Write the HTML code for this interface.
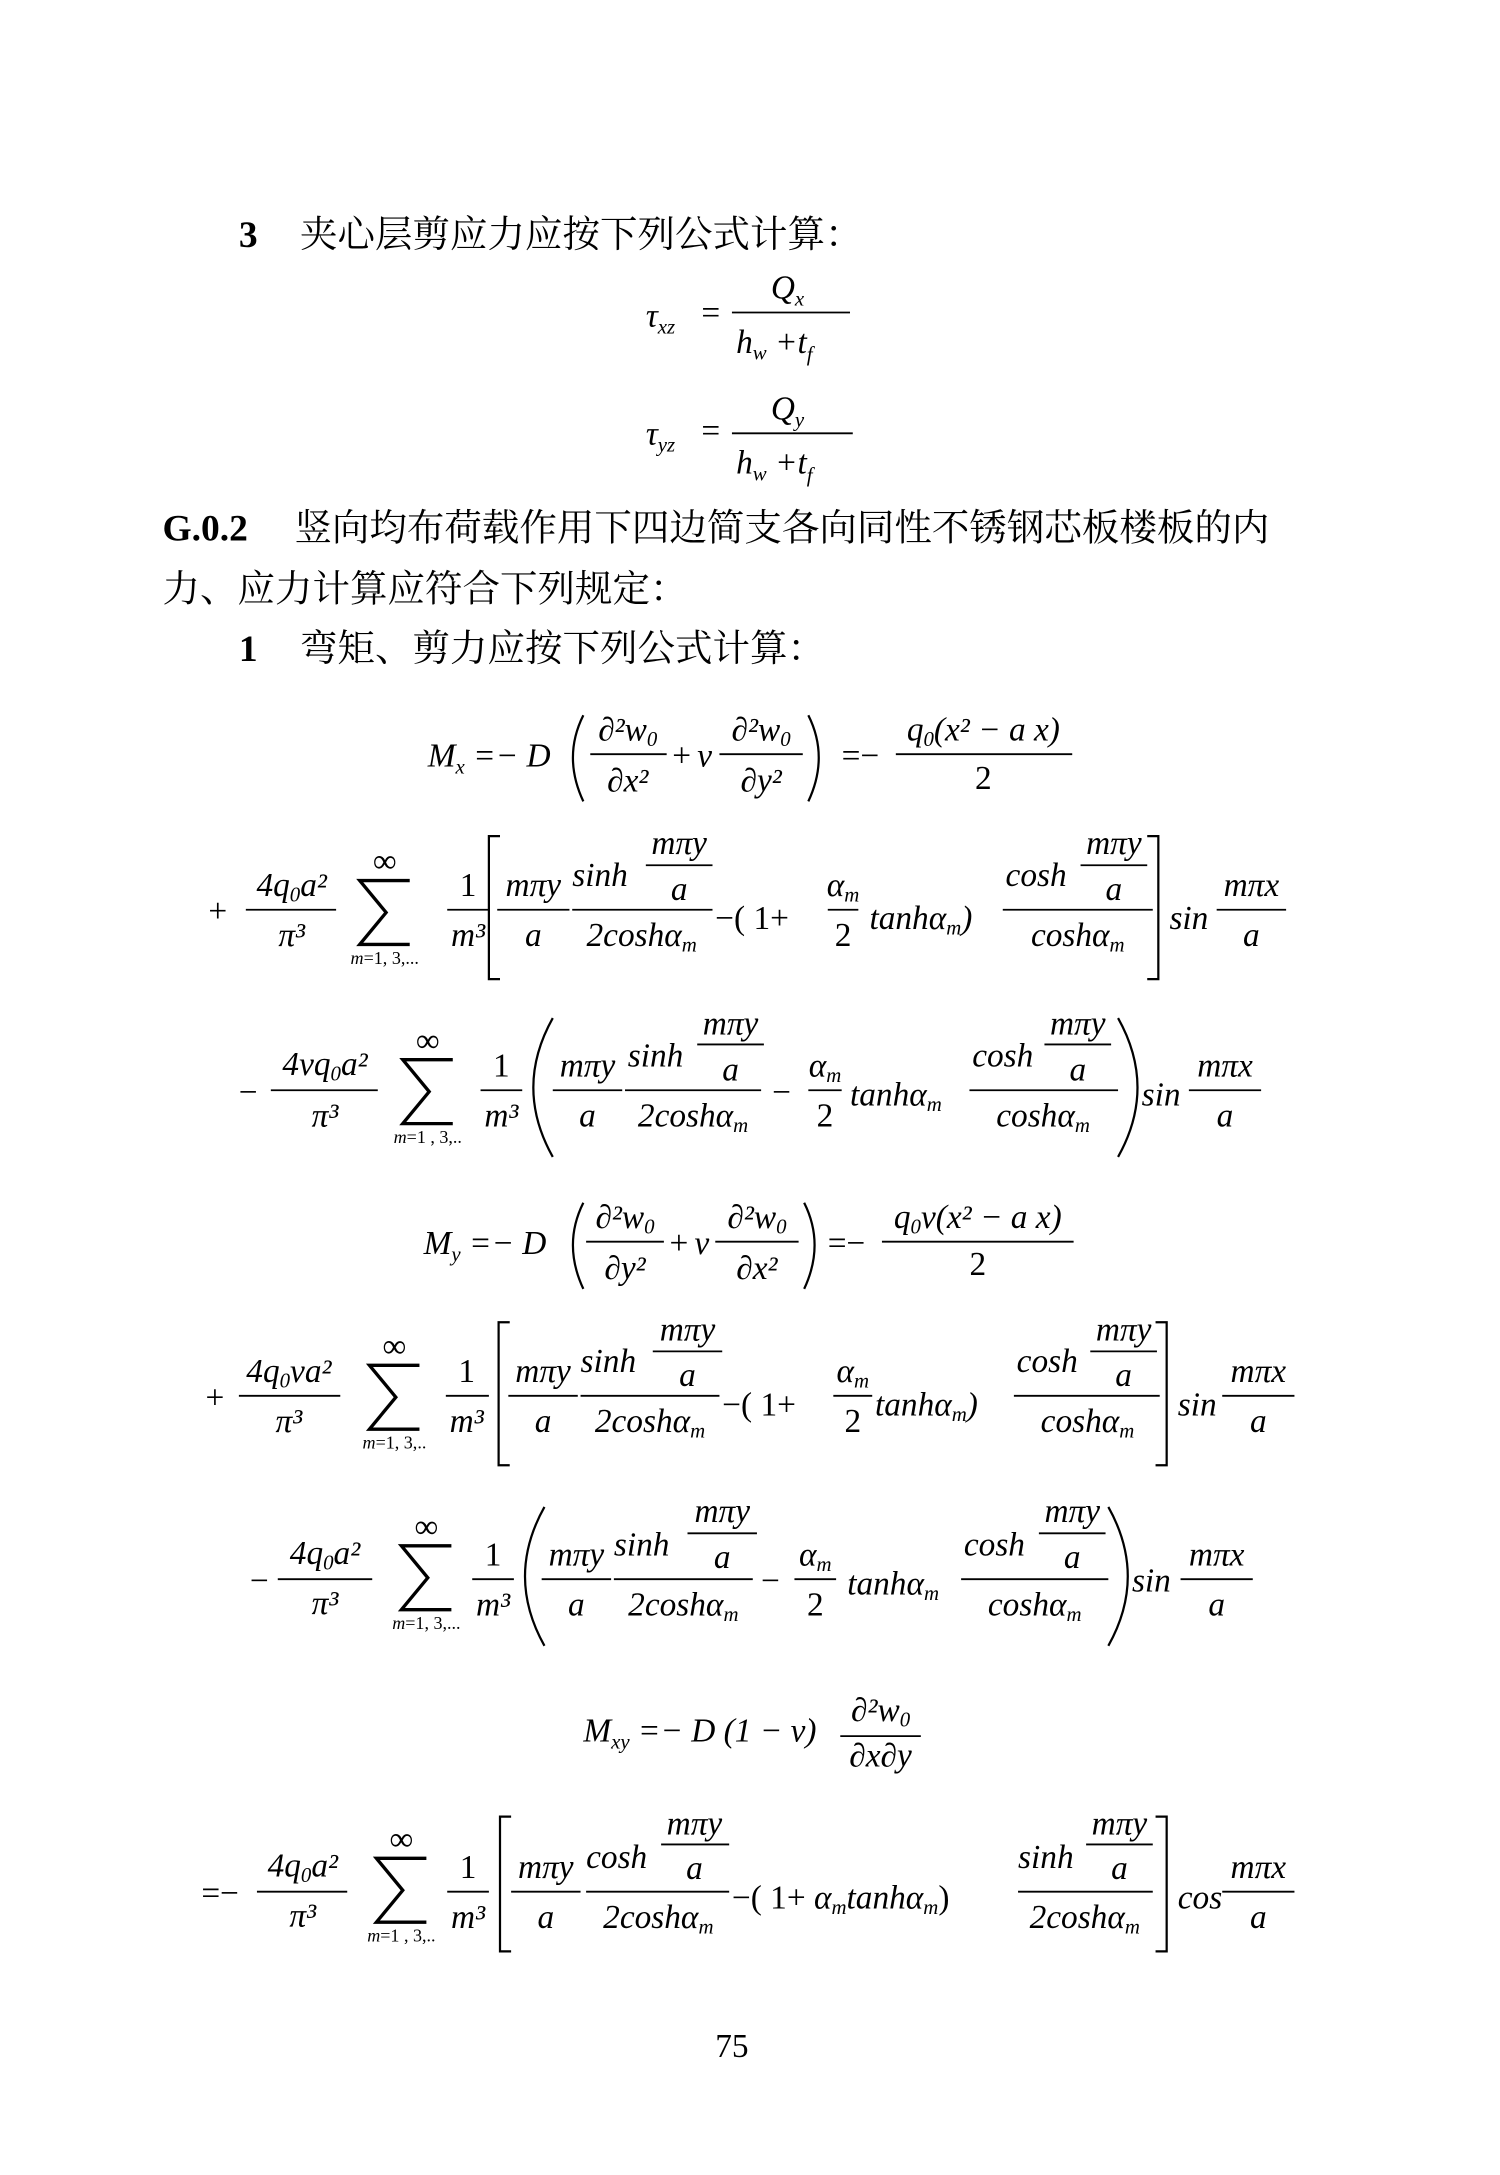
<!DOCTYPE html>
<html><head><meta charset="utf-8">
<style>
html,body{margin:0;padding:0;background:#fff;}
svg{display:block;}
.c{font-family:"Liberation Serif","Noto Serif CJK SC","Noto Serif CJK JP",serif;font-size:27px;}
.b{font-family:"Liberation Serif",serif;font-weight:bold;font-size:27px;}
.m{font-family:"Liberation Serif",serif;font-style:italic;font-size:24px;}
.r{font-family:"Liberation Serif","DejaVu Serif",serif;font-size:24px;}
.s{font-size:15px;}
.sub{font-family:"Liberation Serif",serif;font-size:13px;}
line{stroke:#000;stroke-width:1.3;}
path{stroke:#000;stroke-width:1.6;fill:none;}
path.sig{stroke-width:2.4;stroke-linejoin:miter;}
</style></head><body>
<svg width="1500" height="2175" viewBox="0 0 1080 1566" xmlns="http://www.w3.org/2000/svg">
<text x="172" y="178" class="b">3</text>
<text x="216" y="178" class="c">夹心层剪应力应按下列公式计算：</text>
<text x="465" y="235" class="m">τ<tspan class="s" dy="5">xz</tspan></text>
<text x="505" y="233" class="r">=</text>
<line x1="527" y1="225" x2="612" y2="225"/>
<text x="555" y="215" class="m">Q<tspan class="s" dy="5">x</tspan></text>
<text x="530" y="254" class="m">h<tspan class="s" dy="5">w</tspan><tspan dy="-5" class="r"> +</tspan>t<tspan class="s" dy="6">f</tspan></text>
<text x="465" y="320" class="m">τ<tspan class="s" dy="5">yz</tspan></text>
<text x="505" y="318" class="r">=</text>
<line x1="527" y1="312" x2="614" y2="312"/>
<text x="555" y="302" class="m">Q<tspan class="s" dy="5">y</tspan></text>
<text x="530" y="341" class="m">h<tspan class="s" dy="5">w</tspan><tspan dy="-5" class="r"> +</tspan>t<tspan class="s" dy="6">f</tspan></text>
<text x="117" y="389" class="b">G.0.2</text>
<text x="212" y="389" class="c">竖向均布荷载作用下四边简支各向同性不锈钢芯板楼板的内</text>
<text x="117" y="433" class="c">力、应力计算应符合下列规定：</text>
<text x="172" y="476" class="b">1</text>
<text x="216" y="476" class="c">弯矩、剪力应按下列公式计算：</text>

<!-- Mx -->
<text x="308" y="552" class="m">M<tspan class="s" dy="5">x</tspan><tspan class="r" dy="-5"> =− </tspan>D</text>
<path d="M420 515 Q405 545 420 577"/>
<line x1="425" y1="543" x2="480" y2="543"/>
<text x="452" y="533" class="m" text-anchor="middle">∂²w<tspan class="s" dy="4">0</tspan></text>
<text x="452" y="570" class="m" text-anchor="middle">∂x²</text>
<text x="484" y="552" class="r">+</text><text x="502" y="552" class="m">v</text>
<line x1="518" y1="543" x2="578" y2="543"/>
<text x="548" y="533" class="m" text-anchor="middle">∂²w<tspan class="s" dy="4">0</tspan></text>
<text x="548" y="570" class="m" text-anchor="middle">∂y²</text>
<path d="M582 515 Q597 545 582 577"/>
<text x="606" y="552" class="r">=−</text>
<line x1="645" y1="543" x2="772" y2="543"/>
<text x="708" y="533" class="m" text-anchor="middle">q<tspan class="s" dy="4">0</tspan><tspan dy="-4">(x² − a x)</tspan></text>
<text x="708" y="568" class="r" text-anchor="middle">2</text>

<!-- row 2 -->
<text x="150" y="664" class="r">+</text>
<line x1="177" y1="655" x2="242" y2="655"/>
<text x="210" y="645" class="m" text-anchor="middle"><tspan class="r">4</tspan>q<tspan class="s" dy="4">0</tspan><tspan dy="-4">a²</tspan></text>
<text x="210" y="681" class="m" text-anchor="middle">π³</text>
<text x="277" y="628" class="r" text-anchor="middle" font-size="18">∞</text>
<path class="sig" d="M295 634 L259 634 L278 657 L259 680 L295 680"/>
<text x="277" y="694" class="sub" text-anchor="middle"><tspan font-style="italic">m</tspan>=1, 3,...</text>
<line x1="322" y1="655" x2="352" y2="655"/>
<text x="337" y="645" class="r" text-anchor="middle">1</text>
<text x="337" y="681" class="m" text-anchor="middle">m³</text>
<path d="M360 602 L352 602 L352 705 L360 705"/>
<line x1="358" y1="655" x2="410" y2="655"/>
<text x="384" y="645" class="m" text-anchor="middle">mπy</text>
<text x="384" y="681" class="m" text-anchor="middle">a</text>
<line x1="412" y1="655" x2="513" y2="655"/>
<text x="412" y="638" class="m">sinh</text>
<line x1="465" y1="623" x2="513" y2="623"/>
<text x="489" y="615" class="m" text-anchor="middle">mπy</text>
<text x="489" y="648" class="m" text-anchor="middle">a</text>
<text x="462" y="681" class="m" text-anchor="middle"><tspan class="r">2</tspan>coshα<tspan class="s" dy="4">m</tspan></text>
<text x="515" y="669" class="r">−( 1+</text>
<line x1="596" y1="655" x2="618" y2="655"/>
<text x="607" y="645" class="m" text-anchor="middle">α<tspan class="s" dy="4">m</tspan></text>
<text x="607" y="681" class="r" text-anchor="middle">2</text>
<text x="626" y="669" class="m">tanhα<tspan class="s" dy="4">m</tspan><tspan class="r" dy="-4">)</tspan></text>
<line x1="722" y1="655" x2="830" y2="655"/>
<text x="724" y="638" class="m">cosh</text>
<line x1="778" y1="623" x2="826" y2="623"/>
<text x="802" y="615" class="m" text-anchor="middle">mπy</text>
<text x="802" y="648" class="m" text-anchor="middle">a</text>
<text x="776" y="681" class="m" text-anchor="middle">coshα<tspan class="s" dy="4">m</tspan></text>
<path d="M826 602 L834 602 L834 705 L826 705"/>
<text x="842" y="669" class="m">sin</text>
<line x1="876" y1="655" x2="926" y2="655"/>
<text x="901" y="645" class="m" text-anchor="middle">mπx</text>
<text x="901" y="681" class="m" text-anchor="middle">a</text>

<!-- row 3 -->
<text x="172" y="794" class="r">−</text>
<line x1="195" y1="785" x2="272" y2="785"/>
<text x="234" y="774" class="m" text-anchor="middle"><tspan class="r">4</tspan>vq<tspan class="s" dy="4">0</tspan><tspan dy="-4">a²</tspan></text>
<text x="234" y="811" class="m" text-anchor="middle">π³</text>
<text x="308" y="757" class="r" text-anchor="middle" font-size="18">∞</text>
<path class="sig" d="M326 763 L290 763 L309 786 L290 809 L326 809"/>
<text x="308" y="823" class="sub" text-anchor="middle"><tspan font-style="italic">m</tspan>=1 , 3,..</text>
<line x1="346" y1="785" x2="376" y2="785"/>
<text x="361" y="775" class="r" text-anchor="middle">1</text>
<text x="361" y="811" class="m" text-anchor="middle">m³</text>
<path d="M398 733 Q370 783 398 833"/>
<line x1="398" y1="785" x2="448" y2="785"/>
<text x="423" y="775" class="m" text-anchor="middle">mπy</text>
<text x="423" y="811" class="m" text-anchor="middle">a</text>
<line x1="450" y1="785" x2="548" y2="785"/>
<text x="452" y="768" class="m">sinh</text>
<line x1="502" y1="752" x2="550" y2="752"/>
<text x="526" y="745" class="m" text-anchor="middle">mπy</text>
<text x="526" y="778" class="m" text-anchor="middle">a</text>
<text x="499" y="811" class="m" text-anchor="middle"><tspan class="r">2</tspan>coshα<tspan class="s" dy="4">m</tspan></text>
<text x="556" y="794" class="r">−</text>
<line x1="582" y1="785" x2="606" y2="785"/>
<text x="594" y="775" class="m" text-anchor="middle">α<tspan class="s" dy="4">m</tspan></text>
<text x="594" y="811" class="r" text-anchor="middle">2</text>
<text x="612" y="796" class="m">tanhα<tspan class="s" dy="4">m</tspan></text>
<line x1="698" y1="785" x2="805" y2="785"/>
<text x="700" y="768" class="m">cosh</text>
<line x1="752" y1="752" x2="800" y2="752"/>
<text x="776" y="745" class="m" text-anchor="middle">mπy</text>
<text x="776" y="778" class="m" text-anchor="middle">a</text>
<text x="751" y="811" class="m" text-anchor="middle">coshα<tspan class="s" dy="4">m</tspan></text>
<path d="M805 733 Q833 783 805 833"/>
<text x="822" y="796" class="m">sin</text>
<line x1="856" y1="785" x2="908" y2="785"/>
<text x="882" y="775" class="m" text-anchor="middle">mπx</text>
<text x="882" y="811" class="m" text-anchor="middle">a</text>

<!-- My -->
<text x="305" y="903" class="m">M<tspan class="s" dy="5">y</tspan><tspan class="r" dy="-5"> =− </tspan>D</text>
<path d="M420 866 Q405 896 420 928"/>
<line x1="422" y1="894" x2="478" y2="894"/>
<text x="450" y="884" class="m" text-anchor="middle">∂²w<tspan class="s" dy="4">0</tspan></text>
<text x="450" y="921" class="m" text-anchor="middle">∂y²</text>
<text x="482" y="903" class="r">+</text><text x="500" y="903" class="m">v</text>
<line x1="515" y1="894" x2="575" y2="894"/>
<text x="545" y="884" class="m" text-anchor="middle">∂²w<tspan class="s" dy="4">0</tspan></text>
<text x="545" y="921" class="m" text-anchor="middle">∂x²</text>
<path d="M579 866 Q594 896 579 928"/>
<text x="596" y="903" class="r">=−</text>
<line x1="635" y1="894" x2="773" y2="894"/>
<text x="704" y="884" class="m" text-anchor="middle">q<tspan class="s" dy="4">0</tspan><tspan dy="-4">v(x² − a x)</tspan></text>
<text x="704" y="918" class="r" text-anchor="middle">2</text>

<!-- row 5 -->
<text x="148" y="1014" class="r">+</text>
<line x1="172" y1="1005" x2="245" y2="1005"/>
<text x="208" y="995" class="m" text-anchor="middle"><tspan class="r">4</tspan>q<tspan class="s" dy="4">0</tspan><tspan dy="-4">va²</tspan></text>
<text x="208" y="1031" class="m" text-anchor="middle">π³</text>
<text x="284" y="977" class="r" text-anchor="middle" font-size="18">∞</text>
<path class="sig" d="M302 983 L266 983 L285 1006 L266 1029 L302 1029"/>
<text x="284" y="1043" class="sub" text-anchor="middle"><tspan font-style="italic">m</tspan>=1, 3,..</text>
<line x1="321" y1="1005" x2="352" y2="1005"/>
<text x="336" y="995" class="r" text-anchor="middle">1</text>
<text x="336" y="1031" class="m" text-anchor="middle">m³</text>
<path d="M367 952 L359 952 L359 1055 L367 1055"/>
<line x1="366" y1="1005" x2="416" y2="1005"/>
<text x="391" y="995" class="m" text-anchor="middle">mπy</text>
<text x="391" y="1031" class="m" text-anchor="middle">a</text>
<line x1="418" y1="1005" x2="518" y2="1005"/>
<text x="418" y="988" class="m">sinh</text>
<line x1="470" y1="973" x2="520" y2="973"/>
<text x="495" y="965" class="m" text-anchor="middle">mπy</text>
<text x="495" y="998" class="m" text-anchor="middle">a</text>
<text x="468" y="1031" class="m" text-anchor="middle"><tspan class="r">2</tspan>coshα<tspan class="s" dy="4">m</tspan></text>
<text x="520" y="1019" class="r">−( 1+</text>
<line x1="600" y1="1005" x2="628" y2="1005"/>
<text x="614" y="995" class="m" text-anchor="middle">α<tspan class="s" dy="4">m</tspan></text>
<text x="614" y="1031" class="r" text-anchor="middle">2</text>
<text x="630" y="1019" class="m">tanhα<tspan class="s" dy="4">m</tspan><tspan class="r" dy="-4">)</tspan></text>
<line x1="730" y1="1005" x2="835" y2="1005"/>
<text x="732" y="988" class="m">cosh</text>
<line x1="785" y1="973" x2="833" y2="973"/>
<text x="809" y="965" class="m" text-anchor="middle">mπy</text>
<text x="809" y="998" class="m" text-anchor="middle">a</text>
<text x="783" y="1031" class="m" text-anchor="middle">coshα<tspan class="s" dy="4">m</tspan></text>
<path d="M832 952 L840 952 L840 1055 L832 1055"/>
<text x="848" y="1019" class="m">sin</text>
<line x1="880" y1="1005" x2="932" y2="1005"/>
<text x="906" y="995" class="m" text-anchor="middle">mπx</text>
<text x="906" y="1031" class="m" text-anchor="middle">a</text>

<!-- row 6 -->
<text x="180" y="1146" class="r">−</text>
<line x1="200" y1="1137" x2="268" y2="1137"/>
<text x="234" y="1126" class="m" text-anchor="middle"><tspan class="r">4</tspan>q<tspan class="s" dy="4">0</tspan><tspan dy="-4">a²</tspan></text>
<text x="234" y="1162" class="m" text-anchor="middle">π³</text>
<text x="307" y="1107" class="r" text-anchor="middle" font-size="18">∞</text>
<path class="sig" d="M325 1113 L289 1113 L308 1136 L289 1159 L325 1159"/>
<text x="307" y="1173" class="sub" text-anchor="middle"><tspan font-style="italic">m</tspan>=1, 3,...</text>
<line x1="340" y1="1137" x2="370" y2="1137"/>
<text x="355" y="1127" class="r" text-anchor="middle">1</text>
<text x="355" y="1163" class="m" text-anchor="middle">m³</text>
<path d="M392 1085 Q364 1135 392 1185"/>
<line x1="390" y1="1137" x2="440" y2="1137"/>
<text x="415" y="1127" class="m" text-anchor="middle">mπy</text>
<text x="415" y="1163" class="m" text-anchor="middle">a</text>
<line x1="442" y1="1137" x2="542" y2="1137"/>
<text x="442" y="1120" class="m">sinh</text>
<line x1="495" y1="1104" x2="545" y2="1104"/>
<text x="520" y="1096" class="m" text-anchor="middle">mπy</text>
<text x="520" y="1129" class="m" text-anchor="middle">a</text>
<text x="492" y="1163" class="m" text-anchor="middle"><tspan class="r">2</tspan>coshα<tspan class="s" dy="4">m</tspan></text>
<text x="548" y="1146" class="r">−</text>
<line x1="572" y1="1137" x2="602" y2="1137"/>
<text x="587" y="1127" class="m" text-anchor="middle">α<tspan class="s" dy="4">m</tspan></text>
<text x="587" y="1163" class="r" text-anchor="middle">2</text>
<text x="610" y="1148" class="m">tanhα<tspan class="s" dy="4">m</tspan></text>
<line x1="692" y1="1137" x2="798" y2="1137"/>
<text x="694" y="1120" class="m">cosh</text>
<line x1="748" y1="1104" x2="796" y2="1104"/>
<text x="772" y="1096" class="m" text-anchor="middle">mπy</text>
<text x="772" y="1129" class="m" text-anchor="middle">a</text>
<text x="745" y="1163" class="m" text-anchor="middle">coshα<tspan class="s" dy="4">m</tspan></text>
<path d="M798 1085 Q826 1135 798 1185"/>
<text x="815" y="1146" class="m">sin</text>
<line x1="850" y1="1137" x2="902" y2="1137"/>
<text x="876" y="1127" class="m" text-anchor="middle">mπx</text>
<text x="876" y="1163" class="m" text-anchor="middle">a</text>

<!-- Mxy -->
<text x="420" y="1254" class="m">M<tspan class="s" dy="5">xy</tspan><tspan class="r" dy="-5"> =− </tspan>D<tspan class="r"> (1 − </tspan>v<tspan class="r">)</tspan></text>
<line x1="605" y1="1250" x2="663" y2="1250"/>
<text x="634" y="1239" class="m" text-anchor="middle">∂²w<tspan class="s" dy="4">0</tspan></text>
<text x="634" y="1272" class="m" text-anchor="middle">∂x∂y</text>

<!-- row 8 -->
<text x="145" y="1371" class="r">=−</text>
<line x1="185" y1="1362" x2="250" y2="1362"/>
<text x="218" y="1351" class="m" text-anchor="middle"><tspan class="r">4</tspan>q<tspan class="s" dy="4">0</tspan><tspan dy="-4">a²</tspan></text>
<text x="218" y="1387" class="m" text-anchor="middle">π³</text>
<text x="289" y="1332" class="r" text-anchor="middle" font-size="18">∞</text>
<path class="sig" d="M307 1338 L271 1338 L290 1361 L271 1384 L307 1384"/>
<text x="289" y="1398" class="sub" text-anchor="middle"><tspan font-style="italic">m</tspan>=1 , 3,..</text>
<line x1="322" y1="1362" x2="352" y2="1362"/>
<text x="337" y="1352" class="r" text-anchor="middle">1</text>
<text x="337" y="1388" class="m" text-anchor="middle">m³</text>
<path d="M368 1308 L360 1308 L360 1405 L368 1405"/>
<line x1="368" y1="1362" x2="418" y2="1362"/>
<text x="393" y="1352" class="m" text-anchor="middle">mπy</text>
<text x="393" y="1388" class="m" text-anchor="middle">a</text>
<line x1="422" y1="1362" x2="525" y2="1362"/>
<text x="422" y="1345" class="m">cosh</text>
<line x1="476" y1="1328" x2="525" y2="1328"/>
<text x="500" y="1321" class="m" text-anchor="middle">mπy</text>
<text x="500" y="1353" class="m" text-anchor="middle">a</text>
<text x="474" y="1388" class="m" text-anchor="middle"><tspan class="r">2</tspan>coshα<tspan class="s" dy="4">m</tspan></text>
<text x="527" y="1374" class="r">−( 1+ <tspan class="m">α<tspan class="s" dy="4">m</tspan><tspan dy="-4">tanhα</tspan><tspan class="s" dy="4">m</tspan></tspan><tspan dy="-4">)</tspan></text>
<line x1="733" y1="1362" x2="830" y2="1362"/>
<text x="733" y="1345" class="m">sinh</text>
<line x1="782" y1="1328" x2="830" y2="1328"/>
<text x="806" y="1321" class="m" text-anchor="middle">mπy</text>
<text x="806" y="1353" class="m" text-anchor="middle">a</text>
<text x="781" y="1388" class="m" text-anchor="middle"><tspan class="r">2</tspan>coshα<tspan class="s" dy="4">m</tspan></text>
<path d="M832 1308 L840 1308 L840 1405 L832 1405"/>
<text x="848" y="1374" class="m">cos</text>
<line x1="880" y1="1362" x2="932" y2="1362"/>
<text x="906" y="1352" class="m" text-anchor="middle">mπx</text>
<text x="906" y="1388" class="m" text-anchor="middle">a</text>

<text x="527" y="1481" class="r" font-size="22" text-anchor="middle">75</text>
</svg>
</body></html>
